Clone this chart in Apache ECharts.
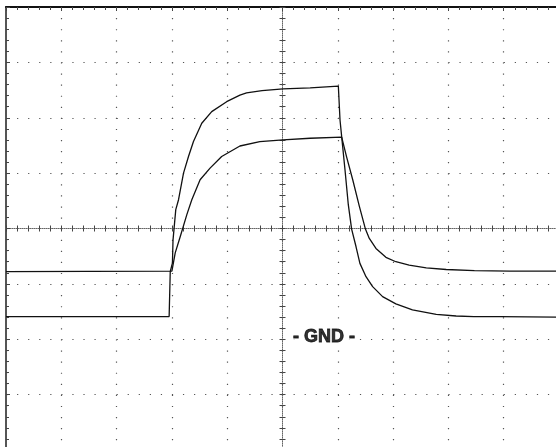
<!DOCTYPE html>
<html><head><meta charset="utf-8">
<script src="https://cdn.jsdelivr.net/npm/echarts@6/dist/echarts.min.js"></script>
<style>html,body{margin:0;padding:0;background:#fff}#c{width:556px;height:447px}</style>
</head><body><div id="c"></div>
<script>
// time in divisions (centre = 0), voltage in divisions (centre = 0)
const ch1Time = [-5, -2.05, -2.03, -1.99, -1.98, -1.93, -1.88, -1.79, -1.70, -1.61, -1.46, -1.28, -1.01, -0.77, -0.65, -0.37, 0.01, 0.50, 1.01, 1.04, 1.07, 1.13, 1.19, 1.25, 1.33, 1.40, 1.51, 1.63, 1.81, 2.05, 2.35, 2.78, 3.14, 3.46, 3.93, 5];
const ch1Volt = [-1.59, -1.59, -0.78, -0.62, -0.21, 0.34, 0.52, 1.00, 1.30, 1.57, 1.90, 2.11, 2.29, 2.41, 2.45, 2.49, 2.52, 2.54, 2.57, 1.96, 1.66, 1.06, 0.43, -0.01, -0.33, -0.63, -0.87, -1.05, -1.23, -1.36, -1.47, -1.55, -1.58, -1.59, -1.59, -1.60];
const ch2Time = [-5, -2.00, -1.94, -1.85, -1.73, -1.64, -1.49, -1.31, -1.10, -0.77, -0.41, 0.01, 0.50, 1.07, 1.16, 1.27, 1.39, 1.50, 1.57, 1.69, 1.87, 2.05, 2.29, 2.60, 2.96, 3.47, 4.11, 5];
const ch2Volt = [-0.78, -0.77, -0.44, -0.15, 0.25, 0.52, 0.88, 1.09, 1.30, 1.49, 1.57, 1.60, 1.63, 1.65, 1.29, 0.88, 0.40, -0.01, -0.18, -0.36, -0.52, -0.60, -0.66, -0.71, -0.74, -0.76, -0.77, -0.77];
const timeRange = [-5, 5];
const voltRange = [-4, 4];
const gndTime = [0.75];
const gndLevel = [-2];
const gndText = '- GND -';

const chart = echarts.init(document.getElementById('c'), null, {renderer: 'canvas'});
const rect = {left: 6, top: 7, width: 553, height: 443, outerBoundsMode: 'none', containLabel: false};
const grids = [0, 1, 2, 3].map(() => Object.assign({}, rect));

function xAx(g, extra) {
  return Object.assign({
    gridIndex: g, type: 'value', min: timeRange[0], max: timeRange[1], interval: 1,
    axisLabel: {show: false}, splitLine: {show: false}, axisTick: {show: false},
    axisLine: {show: false, onZero: false}, minorTick: {show: false}, silent: true
  }, extra);
}
function yAx(g, extra) {
  return Object.assign({
    gridIndex: g, type: 'value', min: voltRange[0], max: voltRange[1], interval: 1,
    axisLabel: {show: false}, splitLine: {show: false}, axisTick: {show: false},
    axisLine: {show: false, onZero: false}, minorTick: {show: false}, silent: true
  }, extra);
}
const tickCol = '#444';
function ticks(inside, len) {
  return {
    axisTick: {show: true, inside: inside, length: len, lineStyle: {color: tickCol}},
    minorTick: {show: true, splitNumber: 5, length: 3, lineStyle: {color: tickCol}}
  };
}

const option = {
  animation: false,
  backgroundColor: '#fff',
  grid: grids,
  xAxis: [
    xAx(0, {splitLine: {show: true, lineStyle: {color: '#555', width: 1.2, type: [1.2, 9.88]}}}),
    xAx(1, Object.assign({position: 'top', axisLine: {show: true, onZero: false, lineStyle: {color: '#111', width: 2}}}, ticks(true, 4))),
    xAx(2, Object.assign({position: 'bottom', axisLine: {show: true, onZero: true, onZeroAxisIndex: 2, lineStyle: {color: '#666', width: 1, type: [1, 1]}}}, ticks(true, 3))),
    xAx(3, Object.assign({position: 'bottom', axisLine: {show: false, onZero: true, onZeroAxisIndex: 3}}, ticks(false, 3)))
  ],
  yAxis: [
    yAx(0, {splitLine: {show: true, lineStyle: {color: '#555', width: 1.2, type: [1.2, 9.86]}}}),
    yAx(1, Object.assign({position: 'left', axisLine: {show: true, onZero: false, lineStyle: {color: '#555', width: 2}}}, ticks(true, 4))),
    yAx(2, Object.assign({position: 'left', axisLine: {show: true, onZero: true, onZeroAxisIndex: 2, lineStyle: {color: '#666', width: 1, type: [1, 1]}}}, ticks(true, 3))),
    yAx(3, Object.assign({position: 'left', axisLine: {show: false, onZero: true, onZeroAxisIndex: 3}}, ticks(false, 3)))
  ],
  series: [
    {type: 'line', name: 'CH1', xAxisIndex: 0, yAxisIndex: 0, silent: true, symbol: 'none', z: 5,
      lineStyle: {color: '#111', width: 1.3}, data: ch1Time.map((t, i) => [t, ch1Volt[i]])},
    {type: 'line', name: 'CH2', xAxisIndex: 0, yAxisIndex: 0, silent: true, symbol: 'none', z: 5,
      lineStyle: {color: '#111', width: 1.3}, data: ch2Time.map((t, i) => [t, ch2Volt[i]])},
    {type: 'scatter', name: 'GND', xAxisIndex: 0, yAxisIndex: 0, silent: true, z: 6,
      symbolSize: 1, itemStyle: {color: 'rgba(0,0,0,0)'},
      label: {show: true, position: 'inside', offset: [0, -2], formatter: gndText, color: '#000',
        fontFamily: 'Liberation Sans, Arial, sans-serif', fontWeight: 700, fontSize: 18,
        textBorderColor: '#000', textBorderWidth: 0.8,
        backgroundColor: '#fff', padding: [1, 2]},
      data: gndTime.map((t, i) => [t, gndLevel[i]])}
  ]
};
chart.setOption(option);
</script>
</body></html>
